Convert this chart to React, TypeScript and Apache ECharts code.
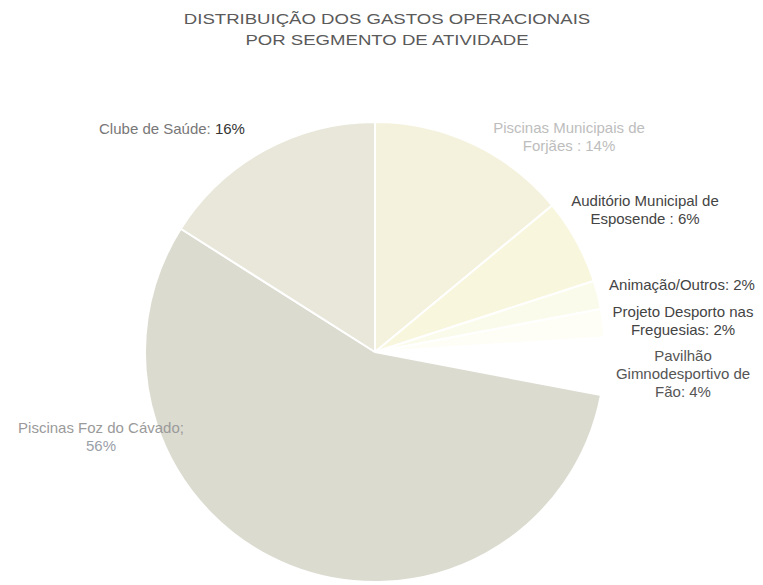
import React, { useEffect, useRef } from "react";
import * as echarts from "echarts";

const titleLines = ["DISTRIBUIÇÃO DOS GASTOS OPERACIONAIS", "POR SEGMENTO DE ATIVIDADE"];

const segments = [
  "Piscinas Municipais de Forjães",
  "Auditório Municipal de Esposende",
  "Animação/Outros",
  "Projeto Desporto nas Freguesias",
  "Pavilhão Gimnodesportivo de Fão",
  "Piscinas Foz do Cávado",
  "Clube de Saúde",
];
const shares = [14, 6, 2, 2, 4, 56, 16];
const labelTexts = [
  "Piscinas Municipais de\nForjães : 14%",
  "Auditório Municipal de\nEsposende : 6%",
  "Animação/Outros: 2%",
  "Projeto Desporto nas\nFreguesias: 2%",
  "Pavilhão\nGimnodesportivo de\nFão: 4%",
  "Piscinas Foz do Cávado;\n{g|56%}",
  "Clube de Saúde: {b|16%}",
];

const sliceColors = ["#f4f2dc", "#f8f6dd", "#fbfbec", "#fefef7", "#ffffff", "#dcdbd0", "#e8e7da"];
const labelColors = ["#bdbdbd", "#444444", "#444444", "#444444", "#555555", "#9a9a9a", "#777777"];
const labelCenters: [number, number][] = [
  [569, 136],
  [645, 209],
  [682, 284],
  [683, 320],
  [683, 373],
  [101, 436],
  [172, 128],
];

export default function App() {
  const ref = useRef<HTMLDivElement>(null);
  useEffect(() => {
    if (!ref.current) return;
    const chart = echarts.init(ref.current, null, { renderer: "svg" });
    const font = "'Liberation Sans', Arial, sans-serif";
    chart.setOption({
      animation: false,
      backgroundColor: "#ffffff",
      graphic: titleLines.map((t, i) => ({
        type: "text",
        x: 387,
        y: 19 + i * 21,
        scaleX: 1.24,
        style: {
          text: t,
          x: 0,
          y: 0,
          textAlign: "center",
          textVerticalAlign: "middle",
          font: `15px ${font}`,
          fill: "#5a5a5a",
        },
      })),
      series: [
        {
          type: "pie",
          center: [375, 352],
          radius: 230,
          startAngle: 90,
          clockwise: true,
          avoidLabelOverlap: false,
          itemStyle: { borderColor: "#ffffff", borderWidth: 2 },
          labelLine: { show: false },
          labelLayout: (p: any) => ({
            x: labelCenters[p.dataIndex][0],
            y: labelCenters[p.dataIndex][1],
            align: "center",
            verticalAlign: "middle",
          }),
          emphasis: { disabled: true },
          data: segments.map((name, i) => ({
            name,
            value: shares[i],
            itemStyle: { color: sliceColors[i] },
            label: {
              show: true,
              position: "outside",
              formatter: labelTexts[i],
              color: labelColors[i],
              fontFamily: font,
              fontSize: 15,
              lineHeight: 18,
              align: "center",
              rich: {
                b: { color: "#333333", fontFamily: font, fontSize: 15, lineHeight: 18 },
                g: { color: "#9aa0a8", fontFamily: font, fontSize: 15, lineHeight: 18 },
              },
            },
          })),
        },
      ],
    });
    return () => chart.dispose();
  }, []);
  return (
    <div
      ref={ref}
      style={{ position: "fixed", left: 0, top: 0, width: 763, height: 585 }}
    />
  );
}
